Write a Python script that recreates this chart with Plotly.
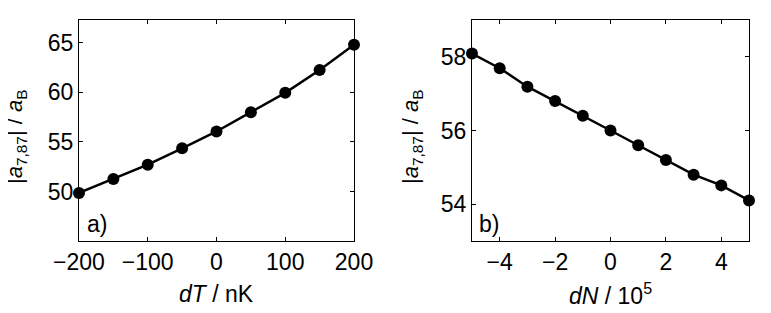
import plotly.graph_objects as go

# Panel a
dT_nK = [-200, -150, -100, -50, 0, 50, 100, 150, 200]
a_vs_dT = [49.85, 51.26, 52.7, 54.35, 56.05, 58.0, 59.95, 62.25, 64.8]
# Panel b
dN_1e5 = [-5, -4, -3, -2, -1, 0, 1, 2, 3, 4, 5]
a_vs_dN = [58.09, 57.69, 57.19, 56.8, 56.4, 56.0, 55.6, 55.2, 54.8, 54.51, 54.1]

xticks_a = [-200, -100, 0, 100, 200]
yticks_a = [50, 55, 60, 65]
xticks_b = [-4, -2, 0, 2, 4]
yticks_b = [54, 56, 58]

FONT = "Liberation Sans, Arial, Helvetica, sans-serif"
OFF = 8  # default page body margin
W, H = 771 - OFF, 313 - OFF

fig = go.Figure()
fig.add_trace(go.Scatter(x=dT_nK, y=a_vs_dT, mode="lines+markers",
                         line=dict(color="black", width=2.5),
                         marker=dict(color="black", size=12),
                         xaxis="x", yaxis="y", showlegend=False, cliponaxis=False))
fig.add_trace(go.Scatter(x=dN_1e5, y=a_vs_dN, mode="lines+markers",
                         line=dict(color="black", width=2.5),
                         marker=dict(color="black", size=12),
                         xaxis="x2", yaxis="y2", showlegend=False, cliponaxis=False))

def px(x):
    return (x - OFF) / W

def py(y):
    return 1 - (y - OFF) / H

ax_common = dict(showline=True, linecolor="black", linewidth=1, mirror="allticks",
                 ticks="inside", ticklen=4, tickcolor="black", tickwidth=1,
                 showgrid=False, zeroline=False, automargin=False,
                 tickfont=dict(family=FONT, size=23, color="black"))

fig.update_layout(
    width=W, height=H,
    margin=dict(l=0, r=0, t=0, b=0),
    paper_bgcolor="white", plot_bgcolor="white",
    font=dict(family=FONT, color="black"),
    xaxis=dict(domain=[px(79), px(354)], range=[-200, 200], tickvals=xticks_a,
               anchor="y", **ax_common),
    yaxis=dict(domain=[py(241), py(20)], range=[45, 67.3], tickvals=yticks_a,
               anchor="x", **ax_common),
    xaxis2=dict(domain=[px(472), px(749)], range=[-5, 5], tickvals=xticks_b,
                anchor="y2", **ax_common),
    yaxis2=dict(domain=[py(241), py(20)], range=[53, 59], tickvals=yticks_b,
                anchor="x2", **ax_common),
)

ytitle = "|<i>a</i><sub>7,87</sub>| / <i>a</i><sub>B</sub>"
ann = [
    dict(x=px(16), y=py(137), text=ytitle, textangle=-90, font=dict(size=22)),
    dict(x=px(412), y=py(137), text=ytitle, textangle=-90, font=dict(size=22)),
    dict(x=px(216.5), y=py(294), text="<i>dT</i> / nK", font=dict(size=23)),
    dict(x=px(610.5), y=py(294), text="<i>dN</i> / 10<sup>5</sup>", font=dict(size=23)),
    dict(x=px(85), y=py(239), text="a)", xanchor="left", yanchor="bottom", font=dict(size=23)),
    dict(x=px(477), y=py(239), text="b)", xanchor="left", yanchor="bottom", font=dict(size=23)),
]
for a in ann:
    a.update(xref="paper", yref="paper", showarrow=False)
    a.setdefault("xanchor", "center")
    a.setdefault("yanchor", "middle")
    a["font"].update(family=FONT, color="black")
fig.update_layout(annotations=ann)

fig.write_html("out.html")
